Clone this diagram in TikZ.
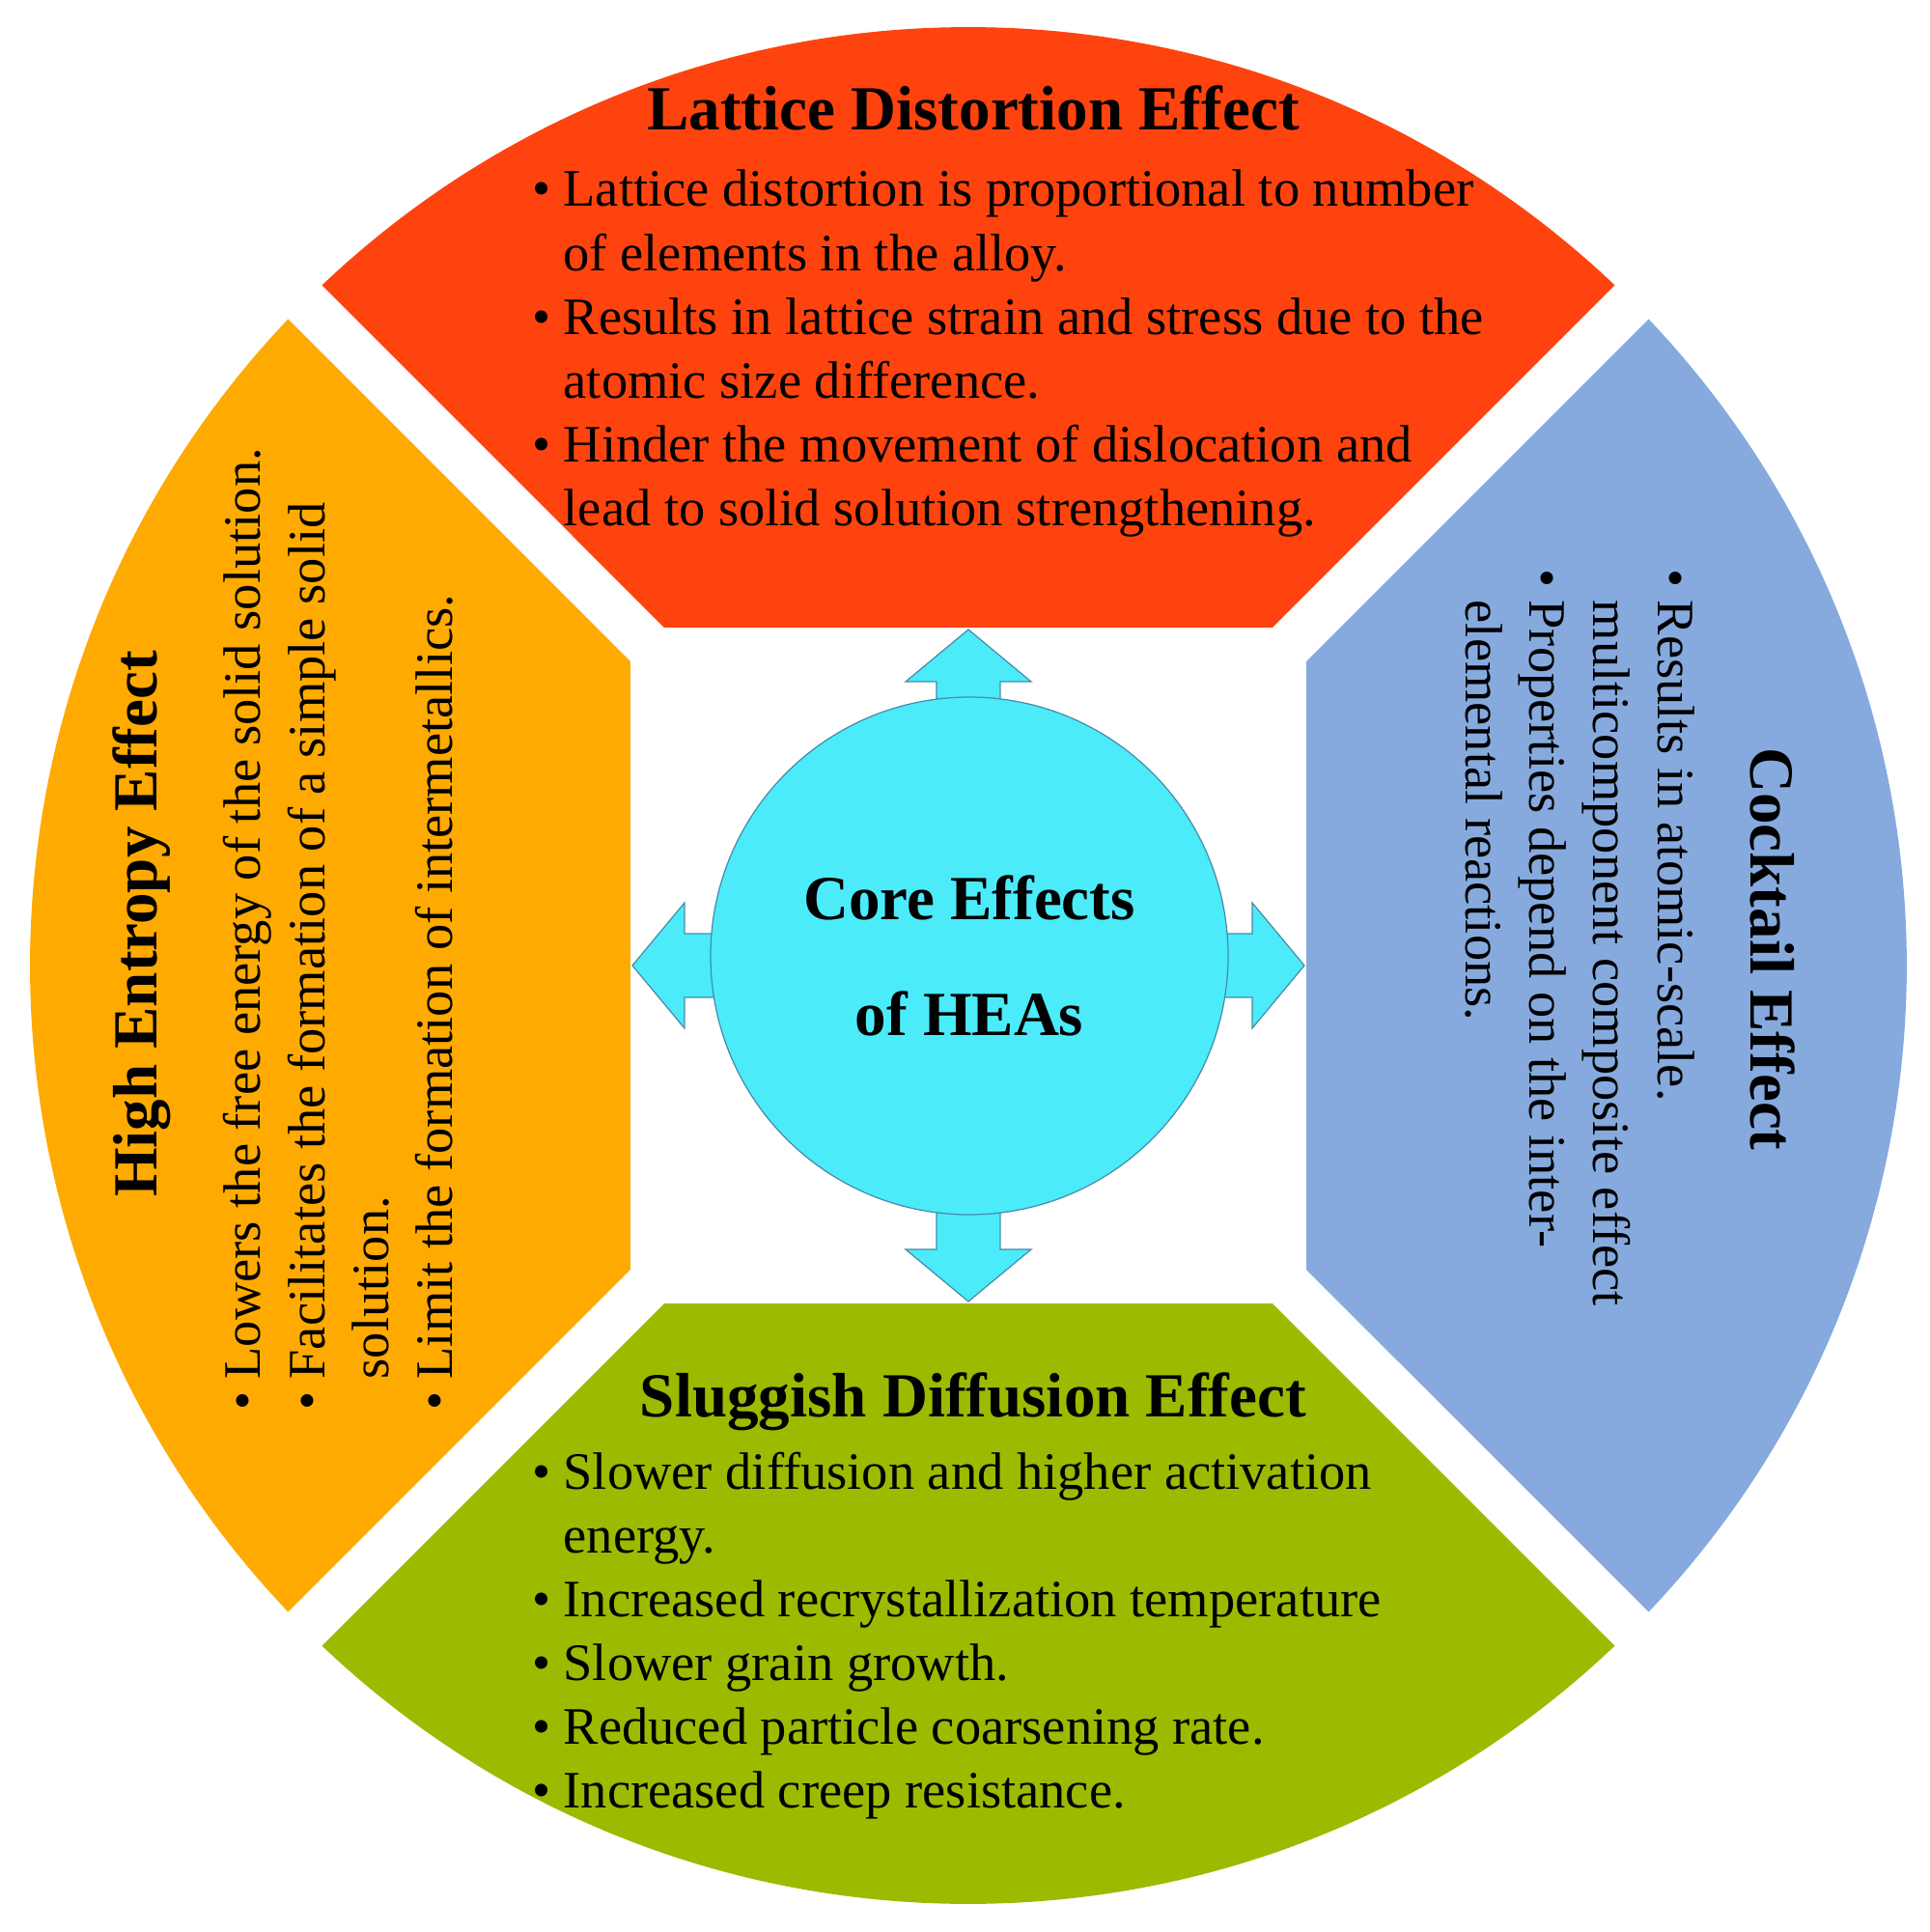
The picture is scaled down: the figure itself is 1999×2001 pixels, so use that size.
\documentclass[tikz,border=0pt]{standalone}
\usepackage{fontspec}
\setmainfont{Liberation Serif}

\definecolor{ldred}{RGB}{255,67,14}
\definecolor{heyellow}{RGB}{255,170,0}
\definecolor{sdgreen}{RGB}{155,187,0}
\definecolor{ckblue}{RGB}{134,170,222}
\definecolor{corecyan}{RGB}{75,235,250}
\definecolor{coreline}{RGB}{70,140,170}

\newcommand{\itembul}{\makebox[3.2mm][l]{\textbullet}}
\newcommand{\itemind}{\hspace*{3.2mm}}

\begin{document}
\begin{tikzpicture}[x=0.1mm, y=0.1mm,
    headtext/.style={font=\fontsize{18.5}{22}\selectfont\bfseries, inner sep=0pt, anchor=base},
    bodytext/.style={font=\fontsize{15.5}{18.8}\selectfont, inner sep=0pt, anchor=base west},
    corearrow/.style={fill=corecyan, draw=coreline, line width=0.35pt}]
    \useasboundingbox (-1003,-1001) rectangle (996,1000);

    % vier Segmente des Kreises
    \foreach \ang/\col in {0/ldred, 90/heyellow, 180/sdgreen, 270/ckblue}
        \fill[\col, rotate=\ang] (-315,350) -- (315,350) -- (46.46:97.2mm)
            arc[start angle=46.46, end angle=133.54, radius=97.2mm] -- cycle;

    % Pfeile hinter dem Kreis
    \foreach \ang in {0,90,180,270}
        \draw[corearrow, rotate=\ang] (-33,0) -- (-33,294) -- (-65,294) -- (0,348)
            -- (65,294) -- (33,294) -- (33,0) -- cycle;

    % Kreis in der Mitte
    \node[circle, minimum size=53.6mm, inner sep=0pt, corearrow, align=center,
          font=\fontsize{18.5}{34.1}\selectfont\bfseries] (core) at (1,10)
        {Core Effects\\of HEAs};

    % Lattice Distortion Effect
    \node[headtext] (ldtitle) at (5,865) {Lattice Distortion Effect};
    \node[bodytext] (ldbody) at (-452,786) {\parbox[t]{125mm}{%
        \itembul Lattice distortion is proportional to number\\
        \itemind of elements in the alloy.\\
        \itembul Results in lattice strain and stress due to the\\
        \itemind atomic size difference.\\
        \itembul Hinder the movement of dislocation and\\
        \itemind lead to solid solution strengthening.}};

    % Sluggish Diffusion Effect
    \node[headtext] (sdtitle) at (5,-467) {Sluggish Diffusion Effect};
    \node[bodytext] (sdbody) at (-452,-542) {\parbox[t]{125mm}{%
        \itembul Slower diffusion and higher activation\\
        \itemind energy.\\
        \itembul Increased recrystallization temperature\\
        \itembul Slower grain growth.\\
        \itembul Reduced particle coarsening rate.\\
        \itembul Increased creep resistance.}};

    % High Entropy Effect
    \node[headtext, rotate=90] (hetitle) at (-840,43) {High Entropy Effect};
    \node[bodytext, rotate=90] (hebody) at (-733,-461) {\parbox[t]{125mm}{%
        \itembul Lowers the free energy of the solid solution.\\
        \itembul Facilitates the formation of a simple solid\\
        \itemind solution.\\
        \itembul Limit the formation of intermetallics.}};

    % Cocktail Effect
    \node[headtext, rotate=-90] (cktitle) at (810,17) {Cocktail Effect};
    \node[bodytext, rotate=-90] (ckbody) at (714,411) {\parbox[t]{125mm}{%
        \itembul Results in atomic-scale.\\
        \itemind multicomponent composite effect\\
        \itembul Properties depend on the inter-\\
        \itemind elemental reactions.}};
\end{tikzpicture}
\end{document}
